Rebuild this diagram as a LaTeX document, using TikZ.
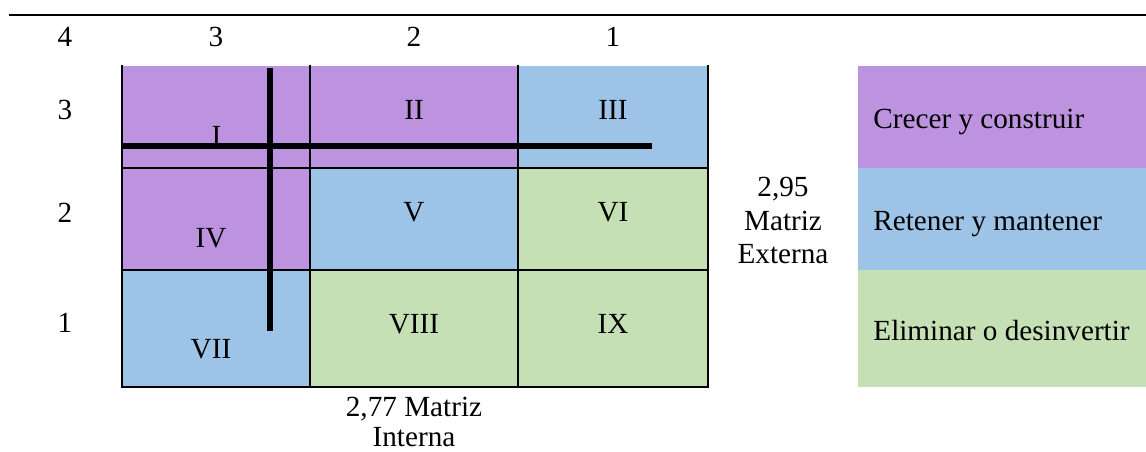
\documentclass[tikz,border=0pt]{standalone}
\usepackage{fontspec}
\setmainfont{Liberation Serif}
\definecolor{cellpurple}{HTML}{BD92DE}
\definecolor{cellblue}{HTML}{9DC3E6}
\definecolor{cellgreen}{HTML}{C5E0B4}
\begin{document}
\begin{tikzpicture}[x=0.5pt,y=-0.5pt,
  txt/.style={inner sep=0pt, anchor=base, font=\fontsize{14.6pt}{17pt}\selectfont},
  lefttxt/.style={txt, anchor=base west},
  gridline/.style={line width=1pt, line cap=rect},
  splitline/.style={line width=2.6pt, black}]
\useasboundingbox (0,0) rectangle (1146,451);

% rule above the column scale
\draw[line width=1.4pt] (9,15) -- (1146,15);

% column scale
\node[txt] (c4) at (65,46) {4};
\node[txt] (c3) at (216,46) {3};
\node[txt] (c2) at (414,46) {2};
\node[txt] (c1) at (613,46) {1};

% row scale
\node[txt] (r3) at (65,119) {3};
\node[txt] (r2) at (65,222) {2};
\node[txt] (r1) at (65,332) {1};

% cells of the matrix
\fill[cellpurple] (122,66)  rectangle (310,168);
\fill[cellpurple] (310,66)  rectangle (518,168);
\fill[cellblue]   (518,66)  rectangle (708,168);
\fill[cellpurple] (122,168) rectangle (310,270);
\fill[cellblue]   (310,168) rectangle (518,270);
\fill[cellgreen]  (518,168) rectangle (708,270);
\fill[cellblue]   (122,270) rectangle (310,387);
\fill[cellgreen]  (310,270) rectangle (518,387);
\fill[cellgreen]  (518,270) rectangle (708,387);

% grid lines
\draw[gridline] (122,66) -- (122,387) -- (708,387) -- (708,66);
\draw[gridline] (310,66) -- (310,387);
\draw[gridline] (518,66) -- (518,387);
\draw[gridline] (122,168) -- (708,168);
\draw[gridline] (122,270) -- (708,270);

% cell labels
\node[txt] (q1) at (216.5,145.5) {I};
\node[txt] (q2) at (414,119) {II};
\node[txt] (q3) at (613,119) {III};
\node[txt] (q4) at (211,247) {IV};
\node[txt] (q5) at (414,221) {V};
\node[txt] (q6) at (613,221) {VI};
\node[txt] (q7) at (211,358) {VII};
\node[txt] (q8) at (414,333) {VIII};
\node[txt] (q9) at (613,333) {IX};

% position lines of the weighted scores
\coordinate (vtop) at (270,68);
\coordinate (vbot) at (270,331);
\coordinate (hleft) at (122,146);
\coordinate (hright) at (652,146);
\draw[splitline] (vtop) -- (vbot);
\draw[splitline] (hleft) -- (hright);

% scores
\node[txt] (ext1) at (783,196) {2,95};
\node[txt] (ext2) at (783,230) {Matriz};
\node[txt] (ext3) at (783,263) {Externa};
\node[txt] (int1) at (414,416) {2,77 Matriz};
\node[txt] (int2) at (414,446) {Interna};

% legend
\fill[cellpurple] (858,66)  rectangle (1146,168);
\fill[cellblue]   (858,168) rectangle (1146,270);
\fill[cellgreen]  (858,270) rectangle (1146,387);
\node[lefttxt] (lg1) at (873,128) {Crecer y construir};
\node[lefttxt] (lg2) at (873,230) {Retener y mantener};
\node[lefttxt] (lg3) at (873,340) {Eliminar o desinvertir};
\end{tikzpicture}
\end{document}
